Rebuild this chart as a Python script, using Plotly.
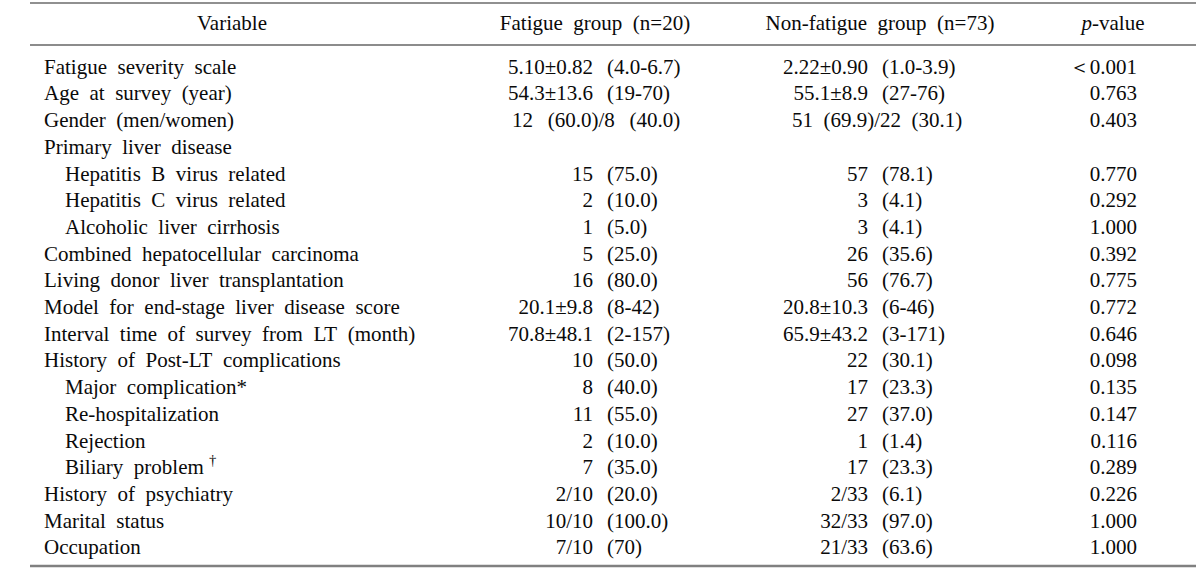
import plotly.graph_objects as go

# ---------------- data ----------------
variables = [
    "Fatigue severity scale",
    "Age at survey (year)",
    "Gender (men/women)",
    "Primary liver disease",
    "Hepatitis B virus related",
    "Hepatitis C virus related",
    "Alcoholic liver cirrhosis",
    "Combined hepatocellular carcinoma",
    "Living donor liver transplantation",
    "Model for end-stage liver disease score",
    "Interval time of survey from LT (month)",
    "History of Post-LT complications",
    "Major complication*",
    "Re-hospitalization",
    "Rejection",
    "Biliary problem\u00a0<sup>†</sup>",
    "History of psychiatry",
    "Marital status",
    "Occupation",
]
sub_item = [False, False, False, False, True, True, True, False, False, False,
            False, False, True, True, True, True, False, False, False]

fatigue_main = ["5.10±0.82", "54.3±13.6", "", "", "15", "2", "1", "5", "16",
                "20.1±9.8", "70.8±48.1", "10", "8", "11", "2", "7", "2/10", "10/10", "7/10"]
fatigue_paren = ["(4.0-6.7)", "(19-70)", "", "", "(75.0)", "(10.0)", "(5.0)", "(25.0)", "(80.0)",
                 "(8-42)", "(2-157)", "(50.0)", "(40.0)", "(55.0)", "(10.0)", "(35.0)",
                 "(20.0)", "(100.0)", "(70)"]
nonfatigue_main = ["2.22±0.90", "55.1±8.9", "", "", "57", "3", "3", "26", "56",
                   "20.8±10.3", "65.9±43.2", "22", "17", "27", "1", "17", "2/33", "32/33", "21/33"]
nonfatigue_paren = ["(1.0-3.9)", "(27-76)", "", "", "(78.1)", "(4.1)", "(4.1)", "(35.6)", "(76.7)",
                    "(6-46)", "(3-171)", "(30.1)", "(23.3)", "(37.0)", "(1.4)", "(23.3)",
                    "(6.1)", "(97.0)", "(63.6)"]
gender_fatigue = "12 (60.0)/8 (40.0)"
gender_nonfatigue = "51 (69.9)/22 (30.1)"
p_values = ["＜0.001", "0.763", "0.403", "", "0.770", "0.292", "1.000", "0.392", "0.775",
            "0.772", "0.646", "0.098", "0.135", "0.147", "0.116", "0.289", "0.226", "1.000", "1.000"]
headers = ["Variable", "Fatigue group (n=20)", "Non-fatigue group (n=73)", "<i>p</i>-value"]
gender_row = 2

# ---------------- layout constants ----------------
W, H = 1200, 572
FONT = "Liberation Serif"
FS = 21
COLOR = "#0a0a0a"
ROW0, ROW_H = 68.5, 26.7
HEAD_Y = 25
X_MAIN, X_SUB = 44, 65
F_ANCHOR, F_GAP = 593, 14
N_ANCHOR, N_GAP = 868, 14
P_RIGHT = 1137
HEAD_X = [232, 595, 880, 1113]
F_GENDER_X, N_GENDER_X = 512, 792


def wide(s, extra=""):
    return s.replace(" ", "\u00a0\u00a0" + extra)


rows_y = [ROW0 + ROW_H * i for i in range(len(variables))]
font = dict(family=FONT, size=FS, color=COLOR)

fig = go.Figure()


def add_text(xs, ys, texts, pos):
    fig.add_trace(go.Scatter(x=xs, y=ys, text=texts, mode="text", textposition=pos,
                             textfont=font, hoverinfo="skip", showlegend=False))


# variable column
add_text([X_SUB if s else X_MAIN for s in sub_item], rows_y, [wide(v) for v in variables], "middle right")

# fatigue column
idx = [i for i in range(len(variables)) if fatigue_main[i]]
add_text([F_ANCHOR] * len(idx), [rows_y[i] for i in idx], [fatigue_main[i] for i in idx], "middle left")
add_text([F_ANCHOR + F_GAP] * len(idx), [rows_y[i] for i in idx], [fatigue_paren[i] for i in idx], "middle right")
add_text([F_GENDER_X], [rows_y[gender_row]], [wide(gender_fatigue, "\u2009")], "middle right")

# non-fatigue column
idx = [i for i in range(len(variables)) if nonfatigue_main[i]]
add_text([N_ANCHOR] * len(idx), [rows_y[i] for i in idx], [nonfatigue_main[i] for i in idx], "middle left")
add_text([N_ANCHOR + N_GAP] * len(idx), [rows_y[i] for i in idx], [nonfatigue_paren[i] for i in idx], "middle right")
add_text([N_GENDER_X], [rows_y[gender_row]], [wide(gender_nonfatigue)], "middle right")

# p-values
idx = [i for i in range(len(variables)) if p_values[i]]
add_text([P_RIGHT] * len(idx), [rows_y[i] for i in idx], [p_values[i] for i in idx], "middle left")

# headers
add_text(HEAD_X, [HEAD_Y] * len(headers), [wide(h) for h in headers], "middle center")

# rules
fig.add_shape(type="line", x0=30, x1=1196, y0=3, y1=3, line=dict(color="#222222", width=1.2))
fig.add_shape(type="line", x0=30, x1=1196, y0=45, y1=45, line=dict(color="#666666", width=1.6))
fig.add_shape(type="line", x0=30, x1=1196, y0=566, y1=566, line=dict(color="#808080", width=2.6))

fig.update_layout(
    width=W, height=H,
    margin=dict(l=0, r=0, t=0, b=0),
    paper_bgcolor="white", plot_bgcolor="white",
    xaxis=dict(range=[0, W], visible=False, fixedrange=True),
    yaxis=dict(range=[H, 0], visible=False, fixedrange=True),
    showlegend=False,
)

fig.write_html(
    "out.html",
    config={"displayModeBar": False},
    post_script="document.body.style.margin='0px';document.body.style.overflow='hidden';",
)
